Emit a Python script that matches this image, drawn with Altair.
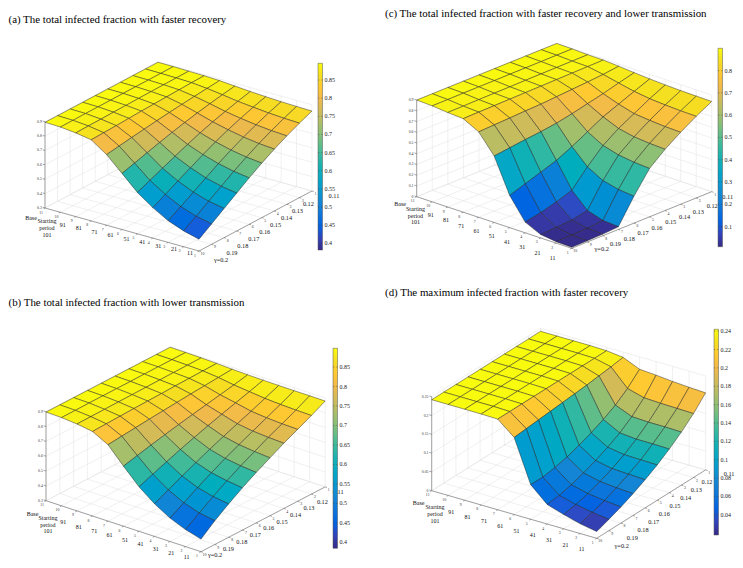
import altair as alt
import pandas as pd

# ------------------------------------------------------------------ data
SP_LABELS = ["Base", "Starting\nperiod\n101", "91", "81", "71", "61", "51", "41", "31", "21", "11"]
SP_TINY = ["11", "10", "9", "8", "7", "6", "5", "4", "3", "2", "1"]
GAMMA_LABELS = ["γ=0.2", "0.19", "0.18", "0.17", "0.16", "0.15", "0.14", "0.13", "0.12", "0.11"]
GAMMA_TINY = ["10", "9", "8", "7", "6", "5", "4", "3", "2", "1"]

TITLE_A = "(a) The total infected fraction with faster recovery"
TITLE_B = "(b) The total infected fraction with lower transmission"
TITLE_C = "(c) The total infected fraction with faster recovery and lower transmission"
TITLE_D = "(d) The maximum infected fraction with faster recovery"

ZTICKS_AB = [0.3, 0.4, 0.5, 0.6, 0.7, 0.8, 0.9]
ZLABELS_AB = ["0.3", "0.4", "0.5", "0.6", "0.7", "0.8", "0.9"]
ZTICKS_C = [0.0, 0.1, 0.2, 0.3, 0.4, 0.5, 0.6, 0.7, 0.8, 0.9]
ZLABELS_C = ["0", "0.1", "0.2", "0.3", "0.4", "0.5", "0.6", "0.7", "0.8", "0.9"]
ZTICKS_D = [0.0, 0.05, 0.1, 0.15, 0.2, 0.25]
ZLABELS_D = ["0", "0.05", "0.1", "0.15", "0.2", "0.25"]

CTICKS_AB = [0.4, 0.45, 0.5, 0.55, 0.6, 0.65, 0.7, 0.75, 0.8, 0.85]
CLABELS_AB = ["0.4", "0.45", "0.5", "0.55", "0.6", "0.65", "0.7", "0.75", "0.8", "0.85"]
CTICKS_C = [0.1, 0.2, 0.3, 0.4, 0.5, 0.6, 0.7, 0.8]
CLABELS_C = ["0.1", "0.2", "0.3", "0.4", "0.5", "0.6", "0.7", "0.8"]
CTICKS_D = [0.04, 0.06, 0.08, 0.1, 0.12, 0.14, 0.16, 0.18, 0.2, 0.22, 0.24]
CLABELS_D = ["0.04", "0.06", "0.08", "0.1", "0.12", "0.14", "0.16", "0.18", "0.2", "0.22", "0.24"]

# rows: starting period Base,101,91,...,11 ; columns: gamma 0.2,0.19,...,0.11
Z_A = [
    [0.896, 0.896, 0.896, 0.896, 0.896, 0.896, 0.896, 0.896, 0.896, 0.896],
    [0.893, 0.893, 0.894, 0.894, 0.894, 0.895, 0.895, 0.895, 0.895, 0.896],
    [0.882, 0.884, 0.885, 0.887, 0.888, 0.890, 0.891, 0.892, 0.893, 0.894],
    [0.864, 0.867, 0.870, 0.874, 0.878, 0.881, 0.884, 0.887, 0.890, 0.892],
    [0.791, 0.804, 0.817, 0.829, 0.841, 0.852, 0.862, 0.871, 0.880, 0.888],
    [0.690, 0.715, 0.741, 0.766, 0.790, 0.812, 0.832, 0.850, 0.866, 0.880],
    [0.588, 0.625, 0.663, 0.700, 0.736, 0.770, 0.800, 0.826, 0.850, 0.872],
    [0.512, 0.557, 0.604, 0.650, 0.695, 0.737, 0.775, 0.808, 0.839, 0.866],
    [0.451, 0.502, 0.556, 0.609, 0.662, 0.710, 0.754, 0.793, 0.829, 0.861],
    [0.410, 0.465, 0.523, 0.581, 0.638, 0.691, 0.739, 0.782, 0.822, 0.858],
    [0.382, 0.442, 0.503, 0.563, 0.623, 0.679, 0.730, 0.776, 0.818, 0.856],
]
Z_B = [
    [0.898, 0.898, 0.898, 0.898, 0.898, 0.898, 0.898, 0.898, 0.898, 0.898],
    [0.895, 0.895, 0.896, 0.896, 0.896, 0.896, 0.897, 0.897, 0.897, 0.897],
    [0.886, 0.887, 0.888, 0.889, 0.890, 0.891, 0.892, 0.893, 0.894, 0.895],
    [0.870, 0.873, 0.876, 0.879, 0.881, 0.883, 0.886, 0.888, 0.890, 0.892],
    [0.815, 0.824, 0.833, 0.842, 0.850, 0.858, 0.866, 0.873, 0.880, 0.887],
    [0.705, 0.728, 0.750, 0.771, 0.791, 0.810, 0.828, 0.846, 0.864, 0.884],
    [0.600, 0.636, 0.672, 0.706, 0.738, 0.769, 0.798, 0.826, 0.853, 0.882],
    [0.520, 0.565, 0.610, 0.652, 0.693, 0.731, 0.768, 0.804, 0.842, 0.881],
    [0.458, 0.512, 0.566, 0.618, 0.666, 0.710, 0.753, 0.794, 0.836, 0.880],
    [0.415, 0.478, 0.540, 0.598, 0.650, 0.698, 0.745, 0.788, 0.832, 0.880],
    [0.385, 0.460, 0.525, 0.585, 0.640, 0.690, 0.740, 0.785, 0.830, 0.879],
]
Z_C = [
    [0.900, 0.900, 0.900, 0.900, 0.900, 0.900, 0.900, 0.900, 0.900, 0.900],
    [0.894, 0.894, 0.895, 0.895, 0.895, 0.896, 0.896, 0.896, 0.897, 0.897],
    [0.880, 0.881, 0.883, 0.884, 0.885, 0.887, 0.888, 0.889, 0.890, 0.891],
    [0.871, 0.873, 0.875, 0.877, 0.879, 0.881, 0.883, 0.885, 0.887, 0.889],
    [0.796, 0.802, 0.808, 0.815, 0.820, 0.830, 0.840, 0.850, 0.862, 0.880],
    [0.619, 0.637, 0.655, 0.670, 0.690, 0.720, 0.755, 0.790, 0.830, 0.868],
    [0.300, 0.350, 0.400, 0.450, 0.520, 0.600, 0.680, 0.740, 0.800, 0.858],
    [0.100, 0.130, 0.170, 0.220, 0.380, 0.520, 0.620, 0.700, 0.780, 0.850],
    [0.032, 0.040, 0.050, 0.080, 0.300, 0.480, 0.590, 0.685, 0.770, 0.845],
    [0.014, 0.016, 0.020, 0.035, 0.265, 0.460, 0.577, 0.675, 0.763, 0.842],
    [0.010, 0.012, 0.015, 0.025, 0.250, 0.450, 0.570, 0.670, 0.760, 0.840],
]
Z_D = [
    [0.242, 0.242, 0.242, 0.242, 0.242, 0.242, 0.242, 0.242, 0.242, 0.242],
    [0.242, 0.242, 0.242, 0.242, 0.242, 0.242, 0.242, 0.242, 0.242, 0.242],
    [0.242, 0.242, 0.242, 0.242, 0.242, 0.242, 0.242, 0.242, 0.242, 0.242],
    [0.242, 0.242, 0.242, 0.242, 0.242, 0.242, 0.242, 0.242, 0.242, 0.242],
    [0.241, 0.241, 0.241, 0.241, 0.241, 0.241, 0.241, 0.241, 0.241, 0.241],
    [0.205, 0.208, 0.211, 0.214, 0.217, 0.220, 0.223, 0.227, 0.231, 0.236],
    [0.092, 0.092, 0.097, 0.105, 0.116, 0.129, 0.144, 0.162, 0.186, 0.217],
    [0.052, 0.056, 0.064, 0.075, 0.088, 0.103, 0.121, 0.144, 0.174, 0.214],
    [0.038, 0.044, 0.053, 0.065, 0.079, 0.096, 0.117, 0.142, 0.172, 0.210],
    [0.026, 0.036, 0.047, 0.061, 0.077, 0.095, 0.117, 0.142, 0.171, 0.207],
    [0.018, 0.030, 0.043, 0.058, 0.075, 0.094, 0.116, 0.141, 0.170, 0.205],
]

# ------------------------------------------------------------------ style
SERIF = "Liberation Serif, Times New Roman, Times, serif"
PARULA_POS = [0 / 63, 4 / 63, 8 / 63, 12 / 63, 16 / 63, 20 / 63, 24 / 63, 28 / 63, 32 / 63,
              35 / 63, 39 / 63, 43 / 63, 47 / 63, 51 / 63, 55 / 63, 59 / 63, 1.0]
PARULA_HEX = ["#352a87", "#3243ba", "#0363e1", "#0d75dc", "#1485d4", "#0998d1", "#06a7c6",
              "#15b1b4", "#38b99e", "#59bd8c", "#87bf77", "#aebe67", "#d1bb59", "#f1b94a",
              "#fec832", "#f5de21", "#f9fb0e"]

PANELS = [
    dict(Z=Z_A, O=(45.0, 208.0), ui=(15.4, 4.3), uj=(12.55, -6.67), kz=143.8, zlo=0.3, ztop=0.9,
         zt=ZTICKS_AB, zl=ZLABELS_AB, ct=CTICKS_AB, cl=CLABELS_AB, cb=(318.0, 63.3, 4.5, 250.0),
         title=TITLE_A, txy=(8.5, 20.0), spo=((-14, 10), (-9, 1.5)), go=((22, 8.5), (9, 6.4), (22, 4.7))),
    dict(Z=Z_B, O=(46.0, 500.7), ui=(15.5, 5.1), uj=(13.8, -7.2), kz=148.3, zlo=0.3, ztop=0.9,
         zt=ZTICKS_AB, zl=ZLABELS_AB, ct=CTICKS_AB, cl=CLABELS_AB, cb=(333.0, 348.3, 4.5, 548.3),
         title=TITLE_B, txy=(8.5, 303.0), spo=((-13.5, 13), (-14.3, 5.5)), go=((14, 3.5), (11, 7.6), (13, 5))),
    dict(Z=Z_C, O=(416.7, 196.7), ui=(15.5, 5.16), uj=(15.56, -6.29), kz=107.4, zlo=0.0, ztop=0.9,
         zt=ZTICKS_C, zl=ZLABELS_C, ct=CTICKS_C, cl=CLABELS_C, cb=(718.0, 48.3, 4.5, 246.7),
         title=TITLE_C, txy=(385.0, 13.5), spo=((-16.5, 7), (-19, 10)), go=((30, 1), (16, 8.4), (16, 5.4))),
    dict(Z=Z_D, O=(431.7, 490.7), ui=(16.5, 4.76), uj=(12.1, -7.6), kz=376.0, zlo=0.0, ztop=0.25,
         zt=ZTICKS_D, zl=ZLABELS_D, ct=CTICKS_D, cl=CLABELS_D, cb=(714.0, 329.3, 4.5, 535.0),
         title=TITLE_D, txy=(385.0, 292.5), spo=((-13, 12), (-15, 11)), go=((25, 7.7), (13.5, 4.2), (23.5, 4))),
]

XS = alt.Scale(domain=[8, 735], nice=False, zero=False)
YS = alt.Scale(domain=[8, 560], nice=False, zero=False, reverse=True)
CS = alt.Scale(domain=PARULA_POS, range=PARULA_HEX, clamp=True)


def X(f):
    return alt.X(f"{f}:Q", scale=XS, axis=None)


def Y(f):
    return alt.Y(f"{f}:Q", scale=YS, axis=None)


def F(v):
    return repr(round(float(v), 5))


def pxe(p, i, j):
    return f"{F(p['O'][0])} + {F(p['ui'][0])}*({i}) + {F(p['uj'][0])}*({j})"


def pye(p, i, j, z):
    return (f"{F(p['O'][1])} + {F(p['ui'][1])}*({i}) + {F(p['uj'][1])}*({j})"
            f" - {F(p['kz'])}*(({z}) - {F(p['zlo'])})")


def surface_df(Z):
    cells = [(ci, cj) for ci in range(len(Z) - 1) for cj in range(len(Z[0]) - 1)]
    cells.sort(key=lambda c: (c[0] - c[1], c[0]))
    rows = []
    for n, (ci, cj) in enumerate(cells):
        zc = Z[ci + 1][cj + 1]
        for k, (di, dj) in enumerate([(0, 0), (1, 0), (1, 1), (0, 1)]):
            rows.append(dict(cell=n, k=k, i=ci + di, j=cj + dj, z=Z[ci + di][cj + dj], zc=zc))
    return pd.DataFrame(rows)


def segs_df(segs):
    rows = []
    for n, (a, b) in enumerate(segs):
        rows.append(dict(lid=n, k=0, i=a[0], j=a[1], z=a[2]))
        rows.append(dict(lid=n, k=1, i=b[0], j=b[1], z=b[2]))
    return pd.DataFrame(rows)


def line_layer(p, segs, color, width):
    return alt.Chart(segs_df(segs)).transform_calculate(
        sx=pxe(p, "datum.i", "datum.j"), sy=pye(p, "datum.i", "datum.j", "datum.z")
    ).mark_line(stroke=color, strokeWidth=width).encode(
        x=X("sx"), y=Y("sy"), detail="lid:N", order=alt.Order("k:Q"))


def panel_layers(p):
    Z = p["Z"]
    ni, nj = len(Z) - 1, len(Z[0]) - 1
    zlo, ztop = p["zlo"], p["ztop"]
    flat = [v for r in Z for v in r]
    cmin, cmax = min(flat), max(flat)
    L = []

    # grid on floor and back walls
    g = []
    for i in range(ni + 1):
        g.append(((i, 0, zlo), (i, nj, zlo)))
        g.append(((i, nj, zlo), (i, nj, ztop)))
    for j in range(nj + 1):
        g.append(((0, j, zlo), (ni, j, zlo)))
        g.append(((0, j, zlo), (0, j, ztop)))
    for zt in p["zt"]:
        g.append(((0, 0, zt), (0, nj, zt)))
        g.append(((0, nj, zt), (ni, nj, zt)))
    L.append(line_layer(p, g, "#e0e0e0", 0.5))

    # axis lines and ticks
    ax = [((0, 0, zlo), (ni, 0, zlo)), ((ni, 0, zlo), (ni, nj, zlo)), ((0, 0, zlo), (0, 0, ztop))]
    for i in range(ni + 1):
        ax.append(((i, 0, zlo), (i, -0.12, zlo)))
    for j in range(nj + 1):
        ax.append(((ni, j, zlo), (ni + 0.12, j, zlo)))
    for zt in p["zt"]:
        ax.append(((0, 0, zt), (-0.15, 0, zt)))
    L.append(line_layer(p, ax, "#6a6a6a", 0.6))

    # surface
    L.append(alt.Chart(surface_df(Z)).transform_calculate(
        sx=pxe(p, "datum.i", "datum.j"),
        sy=pye(p, "datum.i", "datum.j", "datum.z"),
        t=f"(datum.zc - {F(cmin)}) / ({F(cmax)} - {F(cmin)})",
    ).mark_line(interpolate="linear-closed", stroke="#1c1c1c", strokeWidth=0.45, strokeJoin="round").encode(
        x=X("sx"), y=Y("sy"), fill=alt.Fill("t:Q", scale=CS, legend=None),
        detail="cell:N", order=alt.Order("k:Q")))

    # starting-period labels
    (a0x, a0y), (a1x, a1y) = p["spo"]
    sp = pd.DataFrame({"i": list(range(ni + 1)), "label": SP_LABELS, "tiny": SP_TINY})
    L.append(alt.Chart(sp).transform_calculate(
        lx=pxe(p, "datum.i", "0") + f" + {F(a0x)} + {F(a1x - a0x)}*datum.i/{ni}",
        ly=pye(p, "datum.i", "0", F(zlo)) + f" + {F(a0y)} + {F(a1y - a0y)}*datum.i/{ni}",
    ).mark_text(font=SERIF, fontSize=6, lineBreak="\n", lineHeight=6.6, align="center",
                baseline="middle", color="#111111").encode(x=X("lx"), y=Y("ly"), text="label:N"))
    L.append(alt.Chart(sp).transform_calculate(
        lx=pxe(p, "datum.i", "0") + " - 4",
        ly=pye(p, "datum.i", "0", F(zlo)) + " + 4.5",
    ).mark_text(font=SERIF, fontSize=3.8, align="center", baseline="middle", color="#333333").encode(
        x=X("lx"), y=Y("ly"), text="tiny:N"))

    # gamma labels
    (g0x, g0y), (g8x, g8y), (g9x, g9y) = p["go"]
    gm = pd.DataFrame({"j": list(range(nj + 1)), "label": GAMMA_LABELS, "tiny": GAMMA_TINY})
    L.append(alt.Chart(gm).transform_calculate(
        lx=pxe(p, str(ni), "datum.j") + f" + (datum.j < {nj} ? {F(g0x)} + {F(g8x - g0x)}*datum.j/{nj - 1} : {F(g9x)})",
        ly=pye(p, str(ni), "datum.j", F(zlo)) + f" + (datum.j < {nj} ? {F(g0y)} + {F(g8y - g0y)}*datum.j/{nj - 1} : {F(g9y)})",
    ).mark_text(font=SERIF, fontSize=6.3, align="center", baseline="middle", color="#111111").encode(
        x=X("lx"), y=Y("ly"), text="label:N"))
    L.append(alt.Chart(gm).transform_calculate(
        lx=pxe(p, str(ni), "datum.j") + " + 3.5",
        ly=pye(p, str(ni), "datum.j", F(zlo)) + " + 3",
    ).mark_text(font=SERIF, fontSize=3.8, align="center", baseline="middle", color="#333333").encode(
        x=X("lx"), y=Y("ly"), text="tiny:N"))

    # z tick labels
    zd = pd.DataFrame({"v": p["zt"], "label": p["zl"]})
    L.append(alt.Chart(zd).transform_calculate(
        lx=pxe(p, "0", "0") + " - 3.2",
        ly=pye(p, "0", "0", "datum.v"),
    ).mark_text(font=SERIF, fontSize=3.8, align="right", baseline="middle", color="#333333").encode(
        x=X("lx"), y=Y("ly"), text="label:N"))

    # colorbar
    cx, ctop, cw, cbot = p["cb"]
    yexpr = f"{F(ctop)} + ({F(cmax)} - datum.v) * {F(cbot - ctop)} / ({F(cmax)} - {F(cmin)})"
    grad = alt.Gradient(gradient="linear", x1=0, x2=0, y1=1, y2=0,
                        stops=[alt.GradientStop(color=c, offset=o) for o, c in zip(PARULA_POS, PARULA_HEX)])
    cbd = pd.DataFrame({"lo": [cmin], "hi": [cmax]})
    L.append(alt.Chart(cbd).transform_calculate(
        x0=F(cx), x1=F(cx + cw),
        y0=yexpr.replace("datum.v", "datum.hi"), y1=yexpr.replace("datum.v", "datum.lo"),
    ).mark_rect(fill=grad, stroke="#555555", strokeWidth=0.5).encode(
        x=X("x0"), x2="x1:Q", y=Y("y0"), y2="y1:Q"))
    ctd = pd.DataFrame({"v": p["ct"], "label": p["cl"]})
    L.append(alt.Chart(ctd).transform_calculate(
        x0=F(cx), x1=F(cx + 1.2), ly=yexpr,
    ).mark_rule(stroke="#444444", strokeWidth=0.5).encode(x=X("x0"), x2="x1:Q", y=Y("ly")))
    L.append(alt.Chart(ctd).transform_calculate(
        x0=F(cx + cw - 1.2), x1=F(cx + cw), ly=yexpr,
    ).mark_rule(stroke="#444444", strokeWidth=0.5).encode(x=X("x0"), x2="x1:Q", y=Y("ly")))
    L.append(alt.Chart(ctd).transform_calculate(
        lx=F(cx + cw + 2.0), ly=yexpr,
    ).mark_text(font=SERIF, fontSize=6, align="left", baseline="middle", color="#222222").encode(
        x=X("lx"), y=Y("ly"), text="label:N"))

    # title
    tx, ty = p["txy"]
    L.append(alt.Chart(pd.DataFrame({"t": [p["title"]]})).mark_text(
        font=SERIF, fontSize=10.9, fontWeight="normal", align="left", baseline="middle",
        color="#000000").encode(x=alt.value(tx - 8), y=alt.value(ty - 8), text="t:N"))
    return L


layers = []
for p in PANELS:
    layers.extend(panel_layers(p))

chart = alt.layer(*layers).properties(
    width=727, height=552, padding=0, autosize=alt.AutoSizeParams(type="none"),
    background="white",
).configure_view(stroke=None)

chart.save("out.html", embed_options={"renderer": "svg", "actions": False})
